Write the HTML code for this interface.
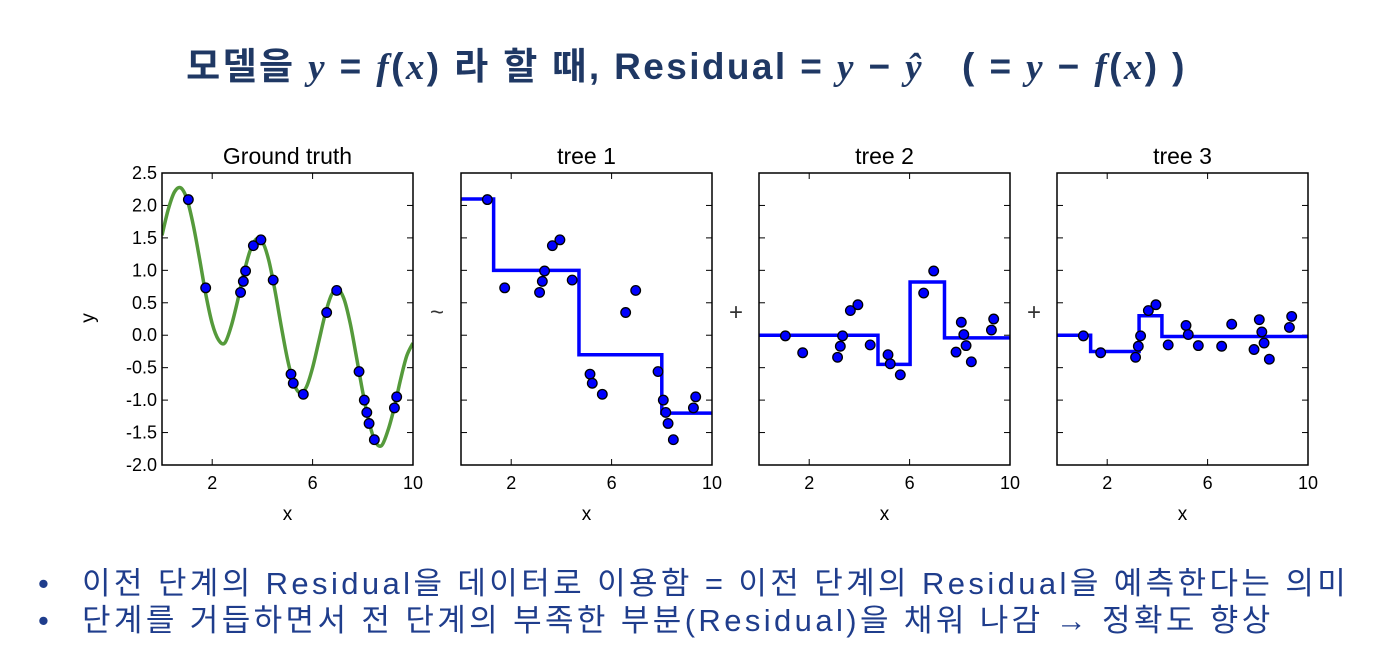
<!DOCTYPE html>
<html><head><meta charset="utf-8">
<style>
body{margin:0;width:1373px;height:657px;background:#fff;overflow:hidden;font-family:"Liberation Sans","Noto Sans CJK KR",sans-serif;}
#title{position:absolute;left:0;top:36px;width:1373px;text-align:center;font-size:37px;letter-spacing:2.4px;font-weight:bold;color:#1f3864;white-space:nowrap;}
.m{font-family:"Liberation Serif",serif;font-style:italic;font-weight:bold;}
.b{position:absolute;left:38px;font-size:31px;letter-spacing:3.4px;color:#1f3d8c;white-space:nowrap;}
.b span{display:inline-block;width:44px;letter-spacing:0;}
</style></head><body>
<div id="title">모델을 <span class="m">y</span> = <span class="m">f</span>(<span class="m">x</span>) 라 할 때, Residual = <span class="m">y</span> − <span class="m">ŷ</span> &nbsp;&nbsp;( = <span class="m">y</span> − <span class="m">f</span>(<span class="m">x</span>) )</div>
<svg id="chart" width="1373" height="657" style="position:absolute;left:0;top:0"></svg>
<div class="b" style="top:558px"><span>•</span>이전 단계의 Residual을 데이터로 이용함 = 이전 단계의 Residual을 예측한다는 의미</div>
<div class="b" style="top:595px"><span>•</span>단계를 거듭하면서 전 단계의 부족한 부분(Residual)을 채워 나감 → 정확도 향상</div>
<script>
const ptX=[1.05,1.74,3.13,3.24,3.33,3.64,3.94,4.43,5.14,5.23,5.63,6.56,6.96,7.85,8.06,8.16,8.25,8.46,9.26,9.35];
const ptY=[2.09,0.73,0.66,0.83,0.99,1.38,1.47,0.85,-0.60,-0.74,-0.91,0.35,0.69,-0.56,-1.0,-1.19,-1.36,-1.61,-1.12,-0.95];
const gtX=[0,0.25,0.5,0.75,1,1.25,1.5,1.75,2,2.25,2.5,2.75,3,3.25,3.5,3.75,4,4.25,4.5,4.75,5,5.25,5.5,5.75,6,6.25,6.5,6.75,7,7.25,7.5,7.75,8,8.25,8.5,8.75,9,9.25,9.5,9.75,10];
const gtY=[1.54,1.94,2.21,2.27,2.09,1.69,1.17,0.62,0.18,-0.07,-0.12,0.13,0.51,0.94,1.29,1.48,1.44,1.16,0.69,0.14,-0.37,-0.74,-0.89,-0.80,-0.50,-0.09,0.32,0.62,0.71,0.56,0.18,-0.34,-0.88,-1.34,-1.64,-1.70,-1.47,-1.12,-0.69,-0.32,-0.12];
const t1Splits=[1.3,4.7,8.0];
const t1Vals=[2.1,1.0,-0.3,-1.2];
const t2Splits=[4.74,6.02,7.39];
const t2Vals=[0,-0.45,0.82,-0.04];
const t3Splits=[1.34,3.27,4.18];
const t3Vals=[0,-0.25,0.30,-0.02];
const yTicks=[-2.0,-1.5,-1.0,-0.5,0.0,0.5,1.0,1.5,2.0,2.5];
const xTicks=[2,6,10];
const titles=["Ground truth","tree 1","tree 2","tree 3"];

const NS="http://www.w3.org/2000/svg",svg=document.getElementById('chart');
function mk(t,a,p){const e=document.createElementNS(NS,t);for(const k in a)e.setAttribute(k,a[k]);(p||svg).appendChild(e);return e;}
function tree(s,v,x){let i=0;while(i<s.length&&x>=s[i])i++;return v[i];}
const r1=ptY.map((y,i)=>y-tree(t1Splits,t1Vals,ptX[i]));
const r2=r1.map((y,i)=>y-tree(t2Splits,t2Vals,ptX[i]));
const lefts=[162,461,759,1057],W=251,T=173,H=292;
function sx(p,x){return lefts[p]+x/10*W;}
function sy(y){return T+(2.5-y)/4.5*H;}
function stepPath(p,s,v){let d='M'+sx(p,0)+','+sy(v[0]);for(let i=0;i<s.length;i++){d+='H'+sx(p,s[i])+'V'+sy(v[i+1]);}return d+'H'+sx(p,10);}
function pts(p,ys,name){const g=mk('g',{});
 ptX.forEach((x,i)=>{const c=mk('circle',{cx:sx(p,x),cy:sy(ys[i]),r:4.8,fill:'#0000ff',stroke:'#000','stroke-width':1.3},g);});}
for(let p=0;p<4;p++){
 const g=mk('g',{});
 const L=lefts[p];
 yTicks.forEach(v=>{mk('line',{x1:L,x2:L+6,y1:sy(v),y2:sy(v),stroke:'#000'},g);mk('line',{x1:L+W,x2:L+W-6,y1:sy(v),y2:sy(v),stroke:'#000'},g);
  if(p==0){const t=mk('text',{x:L-5,y:sy(v)+6,'text-anchor':'end','font-size':18},g);t.textContent=v.toFixed(1);}});
 xTicks.forEach(v=>{mk('line',{x1:sx(p,v),x2:sx(p,v),y1:T,y2:T+6,stroke:'#000'},g);mk('line',{x1:sx(p,v),x2:sx(p,v),y1:T+H,y2:T+H-6,stroke:'#000'},g);
  const t=mk('text',{x:sx(p,v),y:T+H+24,'text-anchor':'middle','font-size':18},g);t.textContent=v;});
 const xl=mk('text',{x:L+W/2,y:520,'text-anchor':'middle','font-size':19},g);xl.textContent='x';
 const tt=mk('text',{x:L+W/2,y:164,'text-anchor':'middle','font-size':23},g);tt.textContent=titles[p];
}
const yl=mk('text',{x:0,y:0,'text-anchor':'middle','font-size':19,transform:'translate(94,318) rotate(-90)'});yl.textContent='y';

let d='M'+sx(0,gtX[0])+','+sy(gtY[0]);
for(let i=0;i<gtX.length-1;i++){const P=j=>[sx(0,gtX[Math.max(0,Math.min(gtX.length-1,j))]),sy(gtY[Math.max(0,Math.min(gtX.length-1,j))])];
 const p0=P(i-1),p1=P(i),p2=P(i+1),p3=P(i+2);
 d+=`C${p1[0]+(p2[0]-p0[0])/6},${p1[1]+(p2[1]-p0[1])/6} ${p2[0]-(p3[0]-p1[0])/6},${p2[1]-(p3[1]-p1[1])/6} ${p2[0]},${p2[1]}`;}
const cp=mk('clipPath',{id:'c0'});mk('rect',{x:162,y:173,width:W,height:H},cp);
const gl=mk('path',{d:d,fill:'none',stroke:'#559a3b','stroke-width':3.5,'clip-path':'url(#c0)'});
pts(0,ptY,'gt-points');
const s1=mk('path',{d:stepPath(1,t1Splits,t1Vals),fill:'none',stroke:'#0000ff','stroke-width':3.5});
pts(1,ptY,'tree1-points');
const s2=mk('path',{d:stepPath(2,t2Splits,t2Vals),fill:'none',stroke:'#0000ff','stroke-width':3.5});
pts(2,r1,'tree2-points');
const s3=mk('path',{d:stepPath(3,t3Splits,t3Vals),fill:'none',stroke:'#0000ff','stroke-width':3.5});
pts(3,r2,'tree3-points');
for(let p=0;p<4;p++){const f=mk('rect',{x:lefts[p],y:T,width:W,height:H,fill:'none',stroke:'#000','stroke-width':1.5});}
[[437,'~'],[736,'+'],[1034,'+']].forEach(o=>{const t=mk('text',{x:o[0],y:320,'text-anchor':'middle','font-size':24,fill:'#333'});t.textContent=o[1];});
</script>
</body></html>
